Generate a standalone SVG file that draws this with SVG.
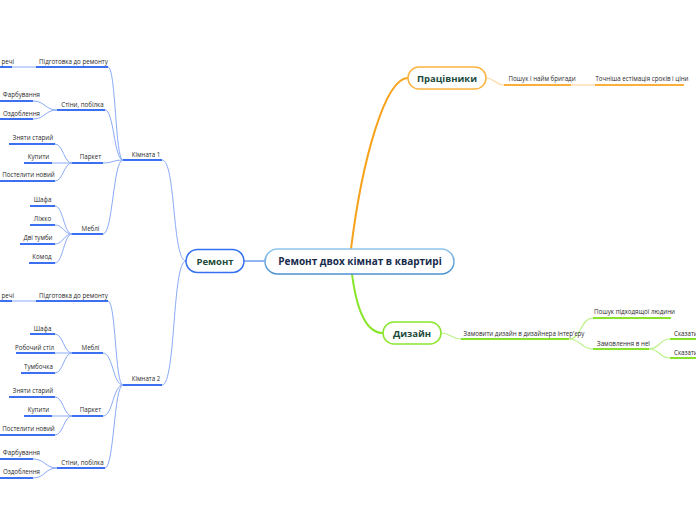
<svg xmlns="http://www.w3.org/2000/svg" width="696" height="520" viewBox="0 0 696 520">
<defs>
<style>
.t{font-family:"Open Sans","Noto Sans",sans-serif;font-size:6.2px;fill:#2a2a2a;text-anchor:middle}
.te{text-anchor:end}
.ts{text-anchor:start}
.n{font-family:"Open Sans","Noto Sans",sans-serif;font-size:9.5px;font-weight:bold;fill:#1d4b3c;text-anchor:middle}
.c{font-family:"Open Sans","Noto Sans",sans-serif;font-size:10px;font-weight:bold;fill:#172b4d;text-anchor:middle}
.ub{stroke:#3d6ff2;stroke-width:2;fill:none}
.cb{stroke:#8aaaf8;stroke-width:1;fill:none}
.uo{stroke:#fbb03b;stroke-width:2;fill:none}
.co{stroke:#ffd59c;stroke-width:1.2;fill:none}
.ug{stroke:#86e22a;stroke-width:2;fill:none}
.cg{stroke:#bdf28a;stroke-width:1.2;fill:none}
</style>
<linearGradient id="cg" x1="0" y1="0" x2="0" y2="1">
<stop offset="0" stop-color="#8ec5ec"/>
<stop offset="1" stop-color="#4a90d0"/>
</linearGradient>
</defs>
<rect width="696" height="520" fill="#fff"/>
<g id="connectors">
<path d="M244,261 L265,261" stroke="#6f9cf0" stroke-width="1.5" fill="none"/>
<path d="M351,249 C362,160 385,78 408,78" stroke="#f7a21b" stroke-width="2" fill="none"/>
<path d="M352,274 C356,305 365,333 383,333" stroke="#8ae62c" stroke-width="2" fill="none"/>
<path class="cb" d="M162,160 C176,160 172,261 186,261"/>
<path class="cb" d="M162,385 C176,385 172,261 186,261"/>
<path class="cb" d="M108,67 C116,67 115,160 123,160"/>
<path class="cb" d="M105,110 C114,110 114,160 123,160"/>
<path class="cb" d="M103,163 C113,163 113,160 123,160"/>
<path class="cb" d="M103,234 C113,234 113,160 123,160"/>
<path class="cb" d="M12,67 L36,67"/>
<path class="cb" d="M33,101 C45,101 45,110 57,110"/>
<path class="cb" d="M33,119 C45,119 45,110 57,110"/>
<path class="cb" d="M55,144 C63,144 64,163 72,163"/>
<path class="cb" d="M52,163 L72,163"/>
<path class="cb" d="M55,181 C63,181 64,163 72,163"/>
<path class="cb" d="M55,206 C63,206 64,234 72,234"/>
<path class="cb" d="M55,225 C63,225 64,234 72,234"/>
<path class="cb" d="M55,244 C63,244 64,234 72,234"/>
<path class="cb" d="M55,263 C63,263 64,234 72,234"/>
<path class="cb" d="M108,301 C116,301 115,385 123,385"/>
<path class="cb" d="M103,353 C113,353 113,385 123,385"/>
<path class="cb" d="M103,416 C113,416 113,385 123,385"/>
<path class="cb" d="M105,468 C114,468 114,385 123,385"/>
<path class="cb" d="M12,301 L36,301"/>
<path class="cb" d="M55,334 C63,334 64,353 72,353"/>
<path class="cb" d="M55,353 L72,353"/>
<path class="cb" d="M55,373 C63,373 64,353 72,353"/>
<path class="cb" d="M55,397 C63,397 64,416 72,416"/>
<path class="cb" d="M52,416 L72,416"/>
<path class="cb" d="M55,435 C63,435 64,416 72,416"/>
<path class="cb" d="M33,459 C45,459 45,468 57,468"/>
<path class="cb" d="M33,478 C45,478 45,468 57,468"/>
<path class="co" d="M486,78 C495,78 495,85 504,85"/>
<path class="co" d="M571,85 L595,85"/>
<path class="cg" d="M441,333 C451,333 451,339 461,339"/>
<path class="cg" d="M569,339 C581,339 581,318 593,318"/>
<path class="cg" d="M569,339 C581,339 581,349 593,349"/>
<path class="cg" d="M649,349 C660,349 659,339 670,339"/>
<path class="cg" d="M649,349 C660,349 659,358 670,358"/>
</g>
<g id="central">
<rect x="265" y="249" width="189" height="25" rx="12.5" fill="#fff" stroke="url(#cg)" stroke-width="1.5"/>
<text class="c" x="360" y="265">Ремонт двох кімнат в квартирі</text>
</g>
<g id="remont">
<rect x="186" y="249.5" width="58" height="23" rx="11.5" fill="#fff" stroke="#3470f0" stroke-width="1.5"/>
<text class="n" x="215" y="264.5">Ремонт</text>
</g>
<g id="pratsivnyky">
<rect x="408" y="67" width="78" height="22" rx="11" fill="#fff" stroke="#fbb440" stroke-width="1.5"/>
<text class="n" x="447" y="81.5">Працівники</text>
</g>
<g id="dyzain">
<rect x="383" y="322" width="58" height="22" rx="11" fill="#fff" stroke="#8ae62c" stroke-width="1.5"/>
<text class="n" x="412" y="336.5">Дизайн</text>
</g>
<g id="kimnata1">
<text class="t" x="146" y="156.5">Кімната 1</text>
<path class="ub" d="M123,160 H162"/>
</g>
<g id="k1-pidgotovka">
<text class="t" x="73.5" y="63.5">Підготовка до ремонту</text>
<path class="ub" d="M36,67 H108"/>
</g>
<g id="k1-rechi">
<text class="t te" x="14" y="63.5">речі</text>
<path class="ub" d="M0,67 H12"/>
</g>
<g id="k1-stiny">
<text class="t" x="82.5" y="106.5">Стіни, побілка</text>
<path class="ub" d="M57,110 H105"/>
</g>
<g id="k1-farbuvannia">
<text class="t te" x="40" y="96.5">Фарбування</text>
<path class="ub" d="M0,101 H33"/>
</g>
<g id="k1-ozdoblennia">
<text class="t te" x="40" y="115.5">Оздоблення</text>
<path class="ub" d="M0,119 H33"/>
</g>
<g id="k1-parket">
<text class="t" x="90.5" y="158.5">Паркет</text>
<path class="ub" d="M72,163 H103"/>
</g>
<g id="k1-zniaty">
<text class="t" x="33" y="139.5">Зняти старий</text>
<path class="ub" d="M9,144 H55"/>
</g>
<g id="k1-kupyty">
<text class="t" x="38.5" y="158.5">Купити</text>
<path class="ub" d="M24,163 H52"/>
</g>
<g id="k1-postelyty">
<text class="t" x="28.5" y="176.5">Постелити новий</text>
<path class="ub" d="M0,181 H55"/>
</g>
<g id="k1-mebli">
<text class="t" x="90.5" y="230.5">Меблі</text>
<path class="ub" d="M72,234 H103"/>
</g>
<g id="k1-shafa">
<text class="t" x="42.5" y="201.5">Шафа</text>
<path class="ub" d="M30,206 H55"/>
</g>
<g id="k1-lizhko">
<text class="t" x="42.5" y="220.5">Ліжко</text>
<path class="ub" d="M30,225 H55"/>
</g>
<g id="k1-tumby">
<text class="t" x="38" y="239.5">Дві тумби</text>
<path class="ub" d="M20,244 H55"/>
</g>
<g id="k1-komod">
<text class="t" x="42" y="258.5">Комод</text>
<path class="ub" d="M29,263 H55"/>
</g>
<g id="kimnata2">
<text class="t" x="146" y="380.5">Кімната 2</text>
<path class="ub" d="M123,385 H162"/>
</g>
<g id="k2-pidgotovka">
<text class="t" x="73.5" y="297.5">Підготовка до ремонту</text>
<path class="ub" d="M36,301 H108"/>
</g>
<g id="k2-rechi">
<text class="t te" x="14" y="297.5">речі</text>
<path class="ub" d="M0,301 H12"/>
</g>
<g id="k2-mebli">
<text class="t" x="90.5" y="349.5">Меблі</text>
<path class="ub" d="M72,353 H103"/>
</g>
<g id="k2-shafa">
<text class="t" x="42.5" y="330.5">Шафа</text>
<path class="ub" d="M30,334 H55"/>
</g>
<g id="k2-stil">
<text class="t" x="34.5" y="349.5">Робочий стіл</text>
<path class="ub" d="M16,353 H55"/>
</g>
<g id="k2-tumbochka">
<text class="t" x="38.5" y="368.5">Тумбочка</text>
<path class="ub" d="M21,373 H55"/>
</g>
<g id="k2-parket">
<text class="t" x="90.5" y="411.5">Паркет</text>
<path class="ub" d="M72,416 H103"/>
</g>
<g id="k2-zniaty">
<text class="t" x="33" y="392.5">Зняти старий</text>
<path class="ub" d="M9,397 H55"/>
</g>
<g id="k2-kupyty">
<text class="t" x="38.5" y="411.5">Купити</text>
<path class="ub" d="M24,416 H52"/>
</g>
<g id="k2-postelyty">
<text class="t" x="28.5" y="430.5">Постелити новий</text>
<path class="ub" d="M0,435 H55"/>
</g>
<g id="k2-stiny">
<text class="t" x="82.5" y="464.5">Стіни, побілка</text>
<path class="ub" d="M57,468 H105"/>
</g>
<g id="k2-farbuvannia">
<text class="t te" x="40" y="454.5">Фарбування</text>
<path class="ub" d="M0,459 H33"/>
</g>
<g id="k2-ozdoblennia">
<text class="t te" x="40" y="473.5">Оздоблення</text>
<path class="ub" d="M0,478 H33"/>
</g>
<g id="poshuk-bryhady">
<text class="t" x="542" y="80.5">Пошук і найм бригади</text>
<path class="uo" d="M504,85 H571"/>
</g>
<g id="estimatsiia">
<text class="t" x="642" y="80.5">Точніша естімація сроків і ціни</text>
<path class="uo" d="M595,85 H684"/>
</g>
<g id="zamovyty">
<text class="t" x="524" y="335.5">Замовити дизайн в дизайнера інтер'єру</text>
<path class="ug" d="M461,339 H569"/>
</g>
<g id="poshuk-liudyny">
<text class="t" x="634.5" y="313.5">Пошук підходящої людини</text>
<path class="ug" d="M593,318 H671"/>
</g>
<g id="zamovlennia">
<text class="t" x="623.5" y="345.5">Замовлення в неї</text>
<path class="ug" d="M593,349 H649"/>
</g>
<g id="skazaty1">
<text class="t ts" x="674" y="335.5">Сказати</text>
<path class="ug" d="M670,339 H696"/>
</g>
<g id="skazaty2">
<text class="t ts" x="674" y="354.5">Сказати</text>
<path class="ug" d="M670,358 H696"/>
</g>
</svg>
